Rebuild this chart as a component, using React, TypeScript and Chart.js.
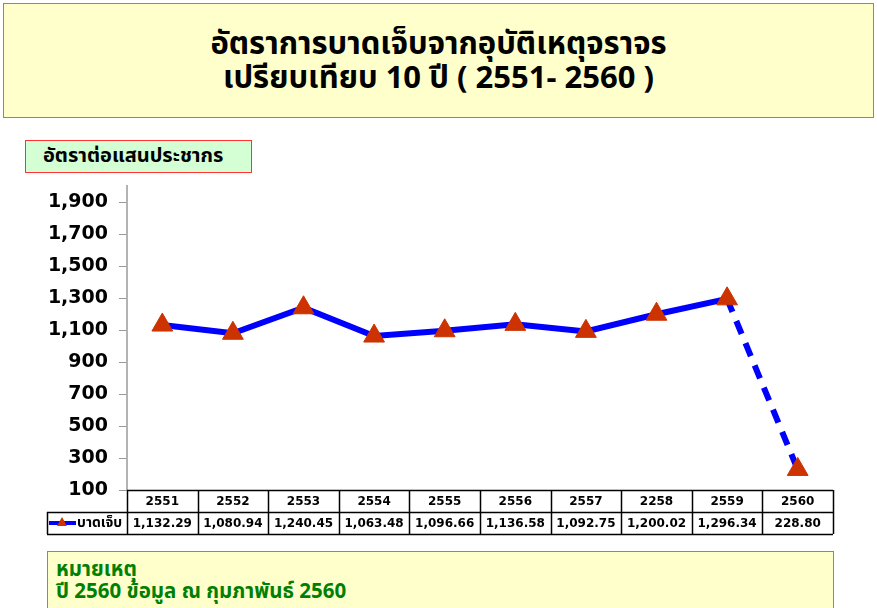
import React, { useEffect, useRef } from "react";
import { Chart, registerables } from "chart.js";

Chart.register(...registerables);

const YEARS = ["2551", "2552", "2553", "2554", "2555", "2556", "2557", "2258", "2559", "2560"];
const INJURY_RATE = [1132.29, 1080.94, 1240.45, 1063.48, 1096.66, 1136.58, 1092.75, 1200.02, 1296.34, 228.8];
const Y_TICKS = [100, 300, 500, 700, 900, 1100, 1300, 1500, 1700, 1900];
const SERIES_NAME = "บาดเจ็บ";
const TITLE_LINE1 = "อัตราการบาดเจ็บจากอุบัติเหตุจราจร";
const TITLE_LINE2 = "เปรียบเทียบ 10 ปี ( 2551- 2560 )";
const UNIT_LABEL = "อัตราต่อแสนประชากร";
const NOTE_LINE1 = "หมายเหตุ";
const NOTE_LINE2 = "ปี 2560 ข้อมูล ณ กุมภาพันธ์ 2560";

const THAI_FONT = "Tahoma, 'Noto Sans Thai', 'Noto Sans Thai UI', Loma, Garuda, 'DejaVu Sans', sans-serif";
const NUM_FONT = "'DejaVu Sans', Tahoma, sans-serif";

const fmt = (v: number) =>
  v.toLocaleString("en-US", { minimumFractionDigits: 2, maximumFractionDigits: 2 });

const tablePlugin = {
  id: "dataTable",
  afterDraw(chart: any) {
    const { ctx, chartArea, scales } = chart;
    const xs = scales.x;
    const top = Math.round(chartArea.bottom);
    const rowH = 22;
    const half = (xs.getPixelForValue(1) - xs.getPixelForValue(0)) / 2;
    const left = chartArea.left;
    const right = chartArea.right;
    const legendLeft = 47;
    ctx.save();
    ctx.strokeStyle = "#000";
    ctx.lineWidth = 1.5;
    ctx.beginPath();
    ctx.moveTo(left, top + 0.5);
    ctx.lineTo(right, top + 0.5);
    ctx.moveTo(legendLeft, top + rowH + 0.5);
    ctx.lineTo(right, top + rowH + 0.5);
    ctx.moveTo(legendLeft, top + 2 * rowH + 0.5);
    ctx.lineTo(right, top + 2 * rowH + 0.5);
    ctx.moveTo(legendLeft + 0.5, top + rowH);
    ctx.lineTo(legendLeft + 0.5, top + 2 * rowH);
    for (let i = 0; i <= YEARS.length; i++) {
      const bx = i < YEARS.length ? xs.getPixelForValue(i) - half : xs.getPixelForValue(YEARS.length - 1) + half;
      ctx.moveTo(Math.round(bx) + 0.5, top);
      ctx.lineTo(Math.round(bx) + 0.5, top + 2 * rowH);
    }
    ctx.stroke();

    ctx.fillStyle = "#000";
    ctx.textAlign = "center";
    ctx.textBaseline = "middle";
    ctx.font = `bold 12px ${NUM_FONT}`;
    YEARS.forEach((y, i) => {
      const cx = xs.getPixelForValue(i);
      ctx.fillText(y, cx, top + rowH / 2 + 1);
      ctx.fillText(fmt(INJURY_RATE[i]), cx, top + rowH * 1.5 + 1);
    });

    // legend cell
    const ly = top + rowH * 1.5;
    ctx.strokeStyle = "#0000ff";
    ctx.lineWidth = 4;
    ctx.beginPath();
    ctx.moveTo(49, ly);
    ctx.lineTo(76, ly);
    ctx.stroke();
    ctx.fillStyle = "#cc3300";
    ctx.beginPath();
    ctx.moveTo(62, ly - 6);
    ctx.lineTo(67, ly + 3);
    ctx.lineTo(57, ly + 3);
    ctx.closePath();
    ctx.fill();
    ctx.fillStyle = "#000";
    ctx.textAlign = "left";
    ctx.font = `bold 14px ${THAI_FONT}`;
    ctx.fillText(SERIES_NAME, 77, ly + 1);
    ctx.restore();
  },
};

export default function App() {
  const canvasRef = useRef<HTMLCanvasElement | null>(null);

  useEffect(() => {
    if (!canvasRef.current) return;
    const chart = new Chart(canvasRef.current, {
      type: "line",
      data: {
        labels: YEARS,
        datasets: [
          {
            label: SERIES_NAME,
            data: INJURY_RATE,
            borderColor: "#0000ff",
            borderWidth: 6,
            tension: 0,
            fill: false,
            pointStyle: "triangle",
            pointRadius: 12,
            pointBackgroundColor: "#cc3300",
            pointBorderColor: "#cc3300",
            pointBorderWidth: 1,
            segment: {
              borderDash: (c: any) => (c.p1DataIndex === INJURY_RATE.length - 1 ? [14, 10] : undefined),
            },
          } as any,
        ],
      },
      options: {
        animation: false,
        responsive: false,
        maintainAspectRatio: false,
        locale: "en-US",
        layout: { padding: { left: 0, right: 44, top: 10, bottom: 50 } },
        plugins: { legend: { display: false }, tooltip: { enabled: false } },
        scales: {
          x: { type: "category", display: false, offset: true },
          y: {
            min: 100,
            max: 2000,
            afterBuildTicks: (s: any) => {
              s.ticks = Y_TICKS.map((v) => ({ value: v }));
            },
            afterFit: (s: any) => {
              s.width = 127;
            },
            border: { color: "#b3b3b3", width: 2 },
            grid: { drawOnChartArea: false, tickLength: 8, color: "#999", lineWidth: 1 },
            ticks: {
              padding: 11,
              color: "#000",
              font: { family: NUM_FONT, weight: "bold", size: 19 },
            },
          },
        },
      },
      plugins: [tablePlugin],
    });
    return () => chart.destroy();
  }, []);

  return (
    <div style={{ position: "absolute", left: 0, top: 0, width: 877, height: 608, overflow: "hidden", background: "#fff" }}>
      <div
        style={{
          position: "absolute",
          left: 3,
          top: 3,
          width: 871,
          height: 115,
          background: "#ffffcc",
          border: "1.5px solid #6f8cb5",
          fontFamily: THAI_FONT,
          fontWeight: "bold",
          fontSize: 31,
          color: "#000",
          textAlign: "center",
          lineHeight: "34px",
          paddingTop: 24,
          boxSizing: "border-box",
        }}
      >
        <div>{TITLE_LINE1}</div>
        <div>{TITLE_LINE2}</div>
      </div>
      <canvas
        ref={canvasRef}
        width={877}
        height={376}
        style={{ position: "absolute", left: 0, top: 164, width: 877, height: 376 }}
      />
      <div
        style={{
          position: "absolute",
          left: 25,
          top: 140,
          width: 227,
          height: 33,
          background: "#d4ffd4",
          border: "1.5px solid #ff3333",
          boxSizing: "border-box",
          fontFamily: THAI_FONT,
          fontWeight: "bold",
          fontSize: 20,
          color: "#000",
          lineHeight: "30px",
          paddingLeft: 17,
          whiteSpace: "nowrap",
        }}
      >
        {UNIT_LABEL}
      </div>
      <div
        style={{
          position: "absolute",
          left: 47,
          top: 551,
          width: 787,
          height: 60,
          background: "#ffffcc",
          border: "1.5px solid #6f8cb5",
          boxSizing: "border-box",
          fontFamily: THAI_FONT,
          fontWeight: "bold",
          fontSize: 20.5,
          color: "#008000",
          lineHeight: "22px",
          paddingLeft: 8,
          paddingTop: 7,
        }}
      >
        <div>{NOTE_LINE1}</div>
        <div>{NOTE_LINE2}</div>
      </div>
    </div>
  );
}
